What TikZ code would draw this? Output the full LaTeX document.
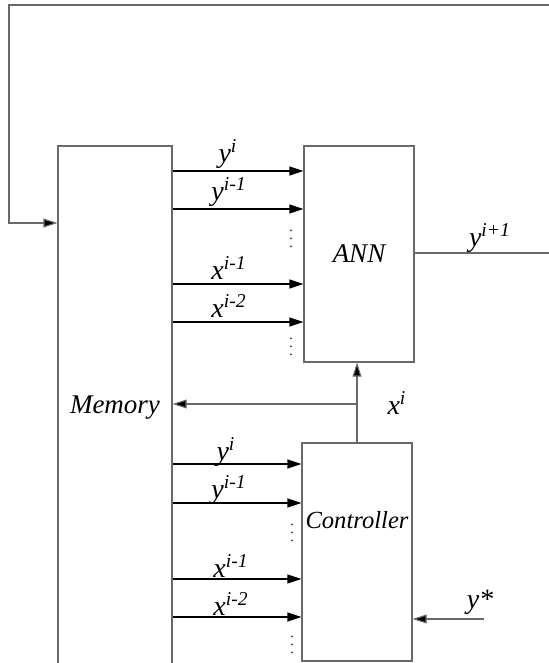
\documentclass[tikz,border=0pt]{standalone}
\usepackage{fontspec}
\setmainfont{Liberation Serif}
\usetikzlibrary{arrows.meta}
\definecolor{mgray}{RGB}{105,105,105}

\begin{document}
\begin{tikzpicture}[x=0.5pt, y=-0.5pt,
    box/.style={draw=mgray, line width=0.55pt, inner sep=0pt,
                font=\fontsize{13.5}{16}\selectfont\itshape},
    arr/.style={-{Triangle[length=7pt,width=4.4pt]}, line width=0.85pt},
    warr/.style={-{Triangle[length=7pt,width=4.4pt,fill=black]}, mgray, line width=0.55pt},
    wire/.style={mgray, line width=0.55pt},
    lab/.style={font=\fontsize{14}{16}\selectfont\itshape, inner sep=0pt},
    vd/.style={font=\fontsize{7}{8}\selectfont, inner sep=0pt},
  ]
    \useasboundingbox (0,0) rectangle (549,663);

    \node[box, minimum width=57pt, minimum height=262pt] (mem)  at (115,408) {Memory};
    \node[box, minimum width=55pt, minimum height=108pt] (ann)  at (359,254) {ANN};
    \node[box, minimum width=55pt, minimum height=109pt,
          label={[font=\fontsize{12.3}{14}\selectfont\itshape, yshift=16pt]center:Controller}]
                                                          (ctrl) at (357,552) {};

    \coordinate (topr) at (549,5);
    \coordinate (topl) at (9,5);
    \coordinate (outr) at (549,253);
    \coordinate (xi)   at (357,404);
    \coordinate (ys)   at (484,619);

    % memory -> ANN
    \draw[arr] (mem.east |- 0,171) -- (ann.west |- 0,171);
    \draw[arr] (mem.east |- 0,209) -- (ann.west |- 0,209);
    \draw[arr] (mem.east |- 0,284) -- (ann.west |- 0,284);
    \draw[arr] (mem.east |- 0,322) -- (ann.west |- 0,322);
    \node[vd] (d1) at (291,233) {$\vdots$};
    \node[vd] (d2) at (291,341) {$\vdots$};

    % memory -> controller
    \draw[arr] (mem.east |- 0,464) -- (ctrl.west |- 0,464);
    \draw[arr] (mem.east |- 0,503) -- (ctrl.west |- 0,503);
    \draw[arr] (mem.east |- 0,579) -- (ctrl.west |- 0,579);
    \draw[arr] (mem.east |- 0,617) -- (ctrl.west |- 0,617);
    \node[vd] (d3) at (292,527) {$\vdots$};
    \node[vd] (d4) at (292,639) {$\vdots$};

    % feedback and outputs
    \draw[warr] (topr) -- (topl) |- (mem.west |- 0,223);
    \draw[wire] (ann.east |- outr) -- (outr);
    \draw[warr] (ctrl.north -| xi) -- (ann.south -| xi);
    \draw[warr] (xi) -- (mem.east |- xi);
    \draw[warr] (ys) -- (ctrl.east |- ys);

    \node[lab] (l1) at (228,154) {y\textsuperscript{i}};
    \node[lab] (l2) at (229,192) {y\textsuperscript{i-1}};
    \node[lab] (l3) at (229,268) {x\textsuperscript{i-1}};
    \node[lab] (l4) at (229,306) {x\textsuperscript{i-2}};
    \node[lab] (l5) at (226,452) {y\textsuperscript{i}};
    \node[lab] (l6) at (229,490) {y\textsuperscript{i-1}};
    \node[lab] (l7) at (231,566) {x\textsuperscript{i-1}};
    \node[lab] (l8) at (231,604) {x\textsuperscript{i-2}};
    \node[lab] (l9) at (490,238) {y\textsuperscript{i+1}};
    \node[lab] (l10) at (397,403) {x\textsuperscript{i}};
    \node[lab] (l11) at (480,602) {y*};
  \end{tikzpicture}
\end{document}
